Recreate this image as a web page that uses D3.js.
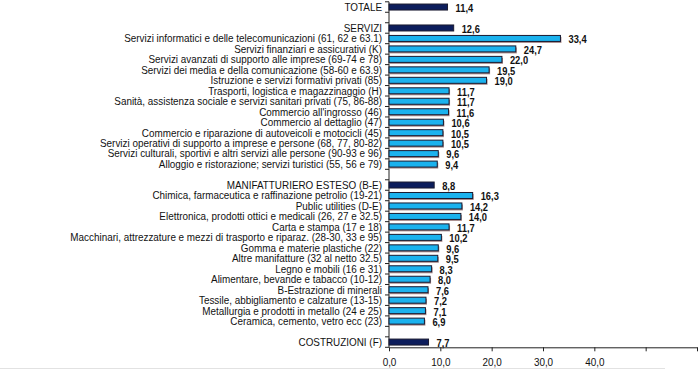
<!DOCTYPE html>
<html>
<head>
<meta charset="utf-8">
<script src="https://cdn.jsdelivr.net/npm/d3@7"></script>
<style>
  body { margin: 0; background: #fff; }
  svg { display: block; }
  .lbl { font-family: "Liberation Sans", Arial, sans-serif; font-size: 11px; fill: #111; }
  .val { font-family: "Liberation Sans", Arial, sans-serif; font-size: 11px; font-weight: bold; fill: #111; }
</style>
</head>
<body>
<div id="chart"></div>
<script>
// rows top to bottom, '' = empty row
const categories = [
  'TOTALE', '',
  'SERVIZI',
  'Servizi informatici e delle telecomunicazioni (61, 62 e 63.1)',
  'Servizi finanziari e assicurativi (K)',
  'Servizi avanzati di supporto alle imprese (69-74 e 78)',
  'Servizi dei media e della comunicazione (58-60 e 63.9)',
  'Istruzione e servizi formativi privati (85)',
  'Trasporti, logistica e magazzinaggio (H)',
  'Sanità, assistenza sociale e servizi sanitari privati (75, 86-88)',
  "Commercio all'ingrosso (46)",
  'Commercio al dettaglio (47)',
  'Commercio e riparazione di autoveicoli e motocicli (45)',
  'Servizi operativi di supporto a imprese e persone (68, 77, 80-82)',
  'Servizi culturali, sportivi e altri servizi alle persone (90-93 e 96)',
  'Alloggio e ristorazione; servizi turistici (55, 56 e 79)',
  '',
  'MANIFATTURIERO ESTESO (B-E)',
  'Chimica, farmaceutica e raffinazione petrolio (19-21)',
  'Public utilities (D-E)',
  'Elettronica, prodotti ottici e medicali (26, 27 e 32.5)',
  'Carta e stampa (17 e 18)',
  'Macchinari, attrezzature e mezzi di trasporto e riparaz. (28-30, 33 e 95)',
  'Gomma e materie plastiche (22)',
  'Altre manifatture (32 al netto 32.5)',
  'Legno e mobili (16 e 31)',
  'Alimentare, bevande e tabacco (10-12)',
  'B-Estrazione di minerali',
  'Tessile, abbigliamento e calzature (13-15)',
  'Metallurgia e prodotti in metallo (24 e 25)',
  'Ceramica, cemento, vetro ecc (23)',
  '',
  'COSTRUZIONI (F)'
];
const values = [
  11.4, null,
  12.6, 33.4, 24.7, 22.0, 19.5, 19.0, 11.7, 11.7, 11.6, 10.6, 10.5, 10.5, 9.6, 9.4,
  null,
  8.8, 16.3, 14.2, 14.0, 11.7, 10.2, 9.6, 9.5, 8.3, 8.0, 7.6, 7.2, 7.1, 6.9,
  null,
  7.7
];
// aggregates drawn in dark blue
const totals = ['TOTALE', 'SERVIZI', 'MANIFATTURIERO ESTESO (B-E)', 'COSTRUZIONI (F)'];
const xTicks = [0, 10, 20, 30, 40, 50, 60];
const xTickLabels = ['0,0', '10,0', '20,0', '30,0', '40,0', '', ''];

const rows = categories.map((c, i) => ({i: i, name: c, value: values[i], total: totals.includes(c)}));

const svg = d3.select('#chart').append('svg')
    .attr('width', 700)
    .attr('height', 370);

const x = d3.scaleLinear().domain([0, 60]).range([389, 697]);
const y = d3.scaleBand().domain(rows.map(d => d.i)).range([1.8, 347.3]);
const narrow = 0.9; // no condensed font here, squeeze the regular one

// x axis
const xAxis = svg.append('g')
    .attr('transform', `translate(0,${y.range()[1]})`)
    .call(d3.axisBottom(x).tickValues(xTicks).tickSize(4).tickSizeOuter(0)
        .tickFormat((d, i) => xTickLabels[i]));
xAxis.select('.domain').attr('stroke', '#222');
xAxis.selectAll('.tick line').attr('stroke', '#222');
xAxis.selectAll('.tick text')
    .attr('class', 'lbl')
    .attr('y', 11)
    .attr('transform', `scale(${narrow},1)`)
    .attr('font-family', null).attr('font-size', null);

// y spine with ticks at row boundaries
const bounds = rows.map(d => y(d.i)).concat([y.range()[1]]);
svg.append('line')
    .attr('x1', x(0)).attr('x2', x(0))
    .attr('y1', y.range()[0]).attr('y2', y.range()[1])
    .attr('stroke', '#222');
svg.append('g').selectAll('line')
    .data(bounds)
    .enter().append('line')
    .attr('x1', x(0) - 4).attr('x2', x(0))
    .attr('y1', d => d).attr('y2', d => d)
    .attr('stroke', '#222');

const barRows = rows.filter(d => d.value != null);
const bh = 6;

// shadow under light bars
svg.append('g').selectAll('rect')
    .data(barRows.filter(d => !d.total))
    .enter().append('rect')
    .attr('x', x(0) + 1)
    .attr('y', d => y(d.i) + y.bandwidth() / 2 - bh / 2 + 1.5)
    .attr('width', d => x(d.value) - x(0))
    .attr('height', bh)
    .attr('fill', '#a88c8c');

svg.append('g').selectAll('rect')
    .data(barRows)
    .enter().append('rect')
    .attr('x', x(0))
    .attr('y', d => y(d.i) + y.bandwidth() / 2 - bh / 2)
    .attr('width', d => x(d.value) - x(0))
    .attr('height', bh)
    .attr('fill', d => d.total ? '#0c1d5c' : '#1bb2ee')
    .attr('stroke', '#1a1a30')
    .attr('stroke-width', 1);

// category labels
svg.append('g').selectAll('text')
    .data(rows.filter(d => d.name))
    .enter().append('text')
    .attr('class', 'lbl')
    .attr('transform', d => `translate(382,${y(d.i) + y.bandwidth() / 2}) scale(${narrow},1)`)
    .attr('dy', '0.35em')
    .attr('text-anchor', 'end')
    .text(d => d.name);

// value labels
const fmt = v => v.toFixed(1).replace('.', ',');
svg.append('g').selectAll('text')
    .data(barRows)
    .enter().append('text')
    .attr('class', 'val')
    .attr('transform', d => `translate(${x(d.value) + 8},${y(d.i) + y.bandwidth() / 2 + 1}) scale(0.85,1)`)
    .attr('dy', '0.35em')
    .text(d => fmt(d.value));

// faint frame line at the bottom
svg.append('line')
    .attr('x1', 0).attr('x2', 665)
    .attr('y1', 368.5).attr('y2', 368.5)
    .attr('stroke', '#e2e2e2');
</script>
</body>
</html>
